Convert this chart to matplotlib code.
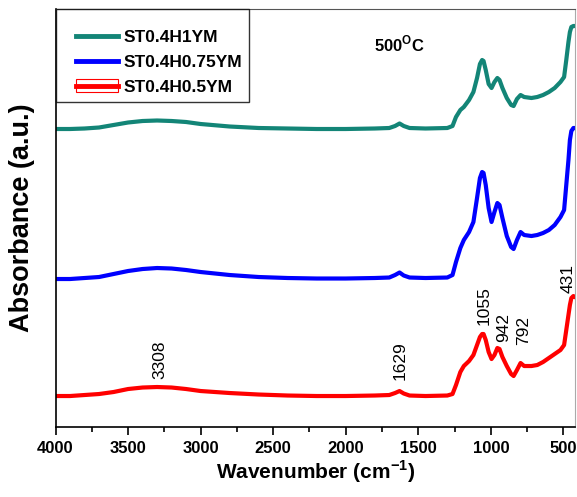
import matplotlib
matplotlib.use('Agg')
import matplotlib.pyplot as plt
from matplotlib.patches import Patch
from matplotlib.lines import Line2D
from matplotlib.legend_handler import HandlerLine2D, HandlerTuple
from matplotlib.ticker import MultipleLocator

plt.rcParams['font.family'] = ['Liberation Sans', 'DejaVu Sans']
plt.rcParams['mathtext.fontset'] = 'custom'
plt.rcParams['mathtext.rm'] = 'Liberation Sans:bold'
plt.rcParams['mathtext.bf'] = 'Liberation Sans:bold'

# FTIR spectra (absorbance, arbitrary offset units)
wavenumber = [4000, 3900, 3800, 3700, 3600, 3500, 3400, 3300, 3200, 3100, 3000, 2800,
              2600, 2400, 2200, 2000, 1800, 1700, 1660, 1629, 1600, 1560, 1450, 1300,
              1264, 1240, 1210, 1186, 1150, 1120, 1095, 1075, 1060, 1050, 1035, 1015,
              995, 975, 955, 940, 920, 890, 860, 843, 820, 795, 770, 720, 680, 640,
              600, 560, 520, 495, 480, 465, 455, 445, 431, 420]
h05 = [31, 31, 32, 33, 35, 38, 39.5, 40, 39.5, 38, 36, 34,
       32.5, 31.5, 31, 31, 31.5, 32, 34, 36, 33.5, 31.5, 31, 31.5,
       33, 42, 55, 61, 66, 72, 82, 90, 93, 93, 87, 75,
       68, 72, 79, 78, 70, 61, 53, 51, 57, 64, 61, 61, 62, 65,
       69, 73, 77, 82, 97, 112, 122, 129, 131, 130]
h075 = [148, 148, 149, 150, 153, 156, 158, 159, 158.5, 157, 155, 152,
        150, 149, 148.5, 148.5, 149, 149.5, 152, 154.5, 151.5, 149.5, 149, 149.5,
        152, 165, 179, 187, 195, 205, 229, 249, 255, 254, 242, 219,
        205, 215, 224, 222, 209, 191, 180, 178, 187, 195, 192, 191, 192, 194,
        197, 202, 210, 217, 242, 267, 287, 296, 299, 299]
h1 = [298, 298, 298.5, 299.5, 302, 304.5, 306, 306.5, 306, 305, 303, 300.5,
      299, 298.5, 298, 298, 298.5, 299, 301, 303.5, 301, 299, 298.5, 299,
      301, 310, 317, 320, 327, 335, 349, 363, 367, 366, 357, 343,
      339, 345, 349, 347, 339, 329, 322, 321, 328, 332, 330, 329, 330, 332,
      335, 339, 345, 350, 367, 385, 395, 400, 401, 401]

peak_labels = ['3308', '1629', '1055', '942', '792', '431']
peak_x = [3280, 1627, 1049, 911, 773, 470]
peak_y = [48, 47, 102, 85, 82, 134]

fig = plt.figure(figsize=(5.77, 4.97), dpi=100)
ax = fig.add_axes([0.0962, 0.1408, 0.9003, 0.8411])

ax.plot(wavenumber, h1, color='#138577', lw=3, label='ST0.4H1YM')
ax.plot(wavenumber, h075, color='#0000ff', lw=3, label='ST0.4H0.75YM')
ax.plot(wavenumber, h05, color='#ff0000', lw=3, label='ST0.4H0.5YM')

for lab, x, y in zip(peak_labels, peak_x, peak_y):
    ax.text(x, y, lab, rotation=90, ha='center', va='bottom', fontsize=12.5)

ax.text(0.663, 0.917, r'500$^{\mathbf{O}}$C', transform=ax.transAxes,
        ha='center', va='center', fontsize=12, fontweight='bold')

ax.set_xlim(4000, 420)
ax.set_ylim(0, 418)
ax.xaxis.set_major_locator(MultipleLocator(500))
ax.xaxis.set_minor_locator(MultipleLocator(250))
ax.tick_params(axis='x', which='major', direction='out', length=6, width=1.2,
               labelsize=12, pad=4)
ax.tick_params(axis='x', which='minor', direction='out', length=3.5, width=1.2)
for t in ax.get_xticklabels():
    t.set_fontweight('bold')
ax.set_yticks([])

ax.spines['left'].set_linewidth(1.2)
ax.spines['bottom'].set_linewidth(1.2)
ax.spines['top'].set_color('#555555')
ax.spines['right'].set_color('#aaaaaa')

ax.set_xlabel(r'Wavenumber (cm$^{\mathbf{-1}}$)', fontsize=15, fontweight='bold', labelpad=2)
ax.set_ylabel('Absorbance (a.u.)', fontsize=19.5, fontweight='bold', labelpad=15)

handles = [
    Line2D([0], [0], color='#138577', lw=3.5),
    Line2D([0], [0], color='#0000ff', lw=3.5),
    (Patch(facecolor='none', edgecolor='#ff0000', lw=0.8), Line2D([0], [0], color='#ff0000', lw=3.5)),
]
leg = ax.legend(handles, ['ST0.4H1YM', 'ST0.4H0.75YM', 'ST0.4H0.5YM'],
                loc='upper left', borderaxespad=0, fancybox=False, frameon=True,
                edgecolor='black', handlelength=3.2, handleheight=0.75, handletextpad=0.3,
                labelspacing=0.55, borderpad=0.4,
                title=' ', title_fontsize=3,
                handler_map={Line2D: HandlerLine2D(xpad=0.8),
                             tuple: HandlerTuple(ndivide=1, xpad=0.8)},
                prop={'weight': 'bold', 'size': 12.5})
leg.get_frame().set_linewidth(1.0)

fig.savefig('out.png', dpi=100, facecolor='white')
